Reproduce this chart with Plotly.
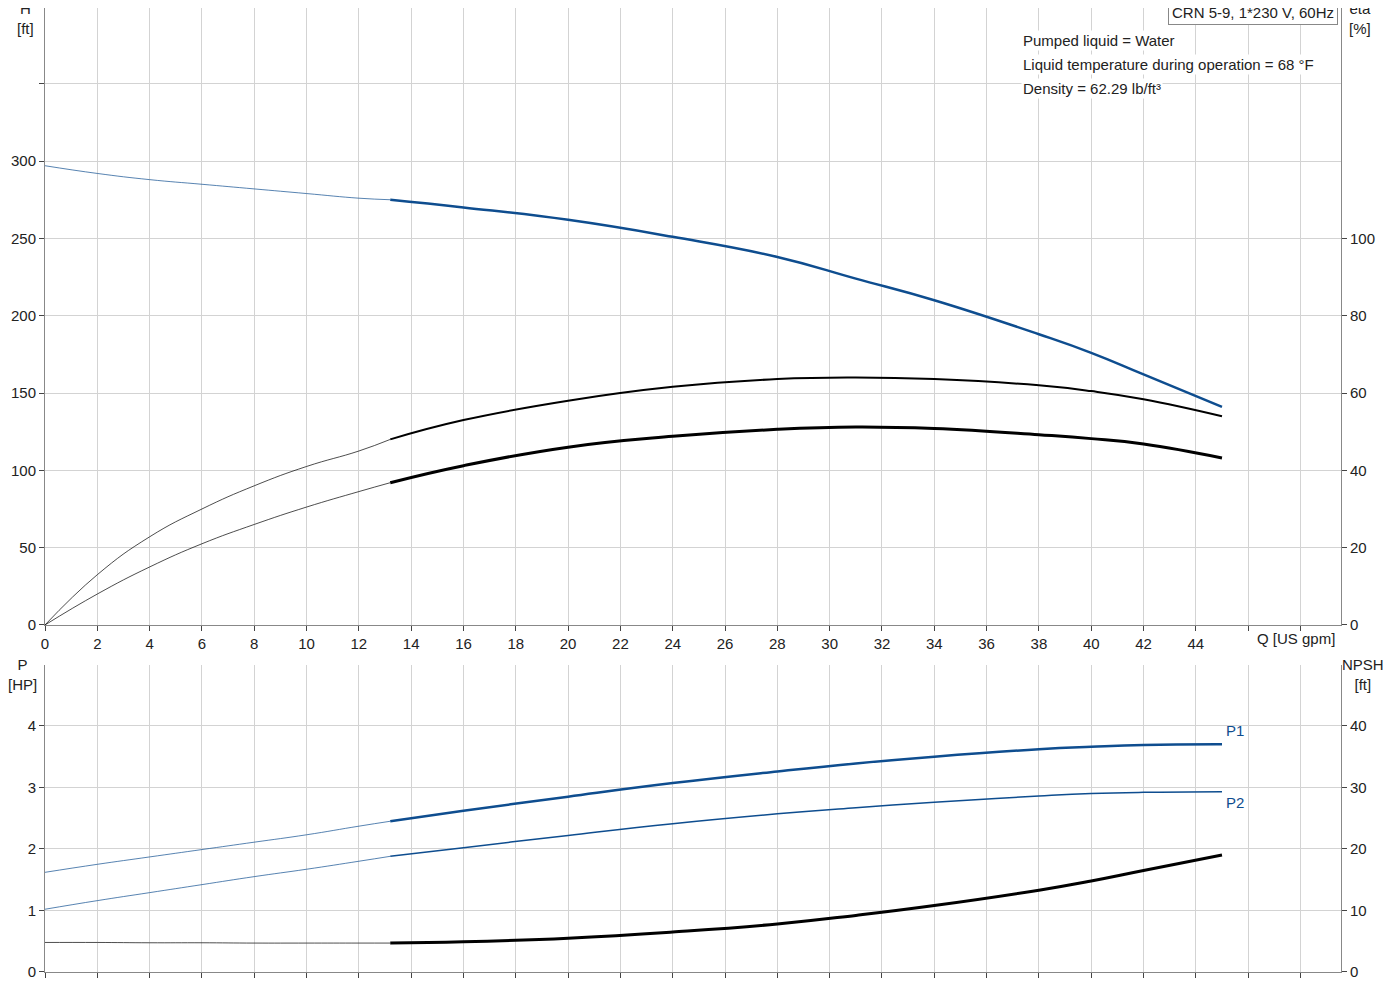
import plotly.graph_objects as go

Q_thin = [0, 2, 4, 6, 8, 10, 12, 13.2]
Q_thick = [13.2, 16, 20, 24, 28, 31, 34, 38, 40, 42, 45]
H_thin = [297, 292, 288, 285, 282, 279, 276, 275]
H_thick = [275, 270, 262, 251, 238, 224, 210, 188, 176, 162, 141]
eta1_thin = [0, 13, 22.8, 30, 36, 41, 45, 48]
eta1_thick = [48, 53, 58, 61.6, 63.6, 64, 63.6, 62, 60.5, 58.4, 54]
eta2_thin = [0, 8, 15, 21, 26, 30.5, 34.5, 36.8]
eta2_thick = [36.8, 41.2, 46, 48.8, 50.6, 51.2, 50.8, 49.2, 48.2, 46.8, 43.2]
P1_thin = [1.62, 1.75, 1.87, 1.99, 2.11, 2.23, 2.37, 2.45]
P1_thick = [2.45, 2.62, 2.85, 3.07, 3.26, 3.39, 3.5, 3.62, 3.66, 3.69, 3.7]
P2_thin = [1.02, 1.16, 1.29, 1.42, 1.55, 1.67, 1.8, 1.88]
P2_thick = [1.88, 2.02, 2.22, 2.41, 2.57, 2.67, 2.76, 2.86, 2.9, 2.92, 2.93]
N_thin = [4.8, 4.8, 4.75, 4.75, 4.7, 4.7, 4.7, 4.7]
N_thick = [4.7, 4.9, 5.5, 6.5, 7.8, 9.2, 10.8, 13.3, 14.8, 16.5, 19]

blue = "#0e4d8f"
fig = go.Figure()
def add(x, y, xa, ya, color, w):
    fig.add_trace(go.Scatter(x=x, y=y, xaxis=xa, yaxis=ya, mode="lines",
                             line=dict(color=color, width=w, shape="spline", smoothing=1.3),
                             showlegend=False, hoverinfo="skip"))
add(Q_thin, H_thin, "x", "y", blue, 0.7); add(Q_thick, H_thick, "x", "y", blue, 2.5)
add(Q_thin, eta1_thin, "x", "y2", "black", 0.7); add(Q_thick, eta1_thick, "x", "y2", "black", 2)
add(Q_thin, eta2_thin, "x", "y2", "black", 0.7); add(Q_thick, eta2_thick, "x", "y2", "black", 3)
add(Q_thin, P1_thin, "x2", "y3", blue, 0.7); add(Q_thick, P1_thick, "x2", "y3", blue, 2.5)
add(Q_thin, P2_thin, "x2", "y3", blue, 0.7); add(Q_thick, P2_thick, "x2", "y3", blue, 1.5)
add(Q_thin, N_thin, "x2", "y4", "black", 0.7); add(Q_thick, N_thick, "x2", "y4", "black", 3)

grid = "#d3d3d3"
ax = dict(showgrid=True, gridcolor=grid, zeroline=False, showline=True, linecolor="#888",
          ticks="outside", ticklen=5, tickcolor="#444", mirror=False)
fig.update_layout(
    width=1392, height=992, plot_bgcolor="white", paper_bgcolor="white",
    margin=dict(l=37, r=59, t=0, b=28),
    font=dict(family="Arial, Liberation Sans", size=15, color="#222"),
    xaxis=dict(ax, domain=[0, 1], range=[0, 49.55], anchor="y",
               tickvals=list(range(0, 49, 2)), ticktext=[str(v) for v in range(0, 45, 2)]+["", ""]),
    yaxis=dict(ax, domain=[0.36, 1], range=[0, 399], tickvals=[0, 50, 100, 150, 200, 250, 300, 350],
               ticktext=["0", "50", "100", "150", "200", "250", "300", ""]),
    yaxis2=dict(ax, overlaying="y", side="right", range=[0, 159.6], showgrid=False,
                tickvals=[0, 20, 40, 60, 80, 100]),
    xaxis2=dict(ax, domain=[0, 1], range=[0, 49.55], anchor="y3", showticklabels=False,
                tickvals=list(range(0, 49, 2))),
    yaxis3=dict(ax, domain=[0, 0.3185], range=[0, 4.99], dtick=1),
    yaxis4=dict(ax, overlaying="y3", side="right", range=[0, 49.9], showgrid=False,
                tickvals=[0, 10, 20, 30, 40]),
)
def ann(x, y, t, xa="paper", ya="paper", **k):
    fig.add_annotation(x=x, y=y, xref=xa, yref=ya, text=t, showarrow=False, **k)
ann(-0.015, 1.01, "H<br>[ft]", xanchor="center", yanchor="top")
ann(1.015, 1.01, "eta<br>[%]", xanchor="center", yanchor="top")
ann(-0.017, 0.33, "P<br>[HP]", xanchor="center", yanchor="top")
ann(1.017, 0.33, "NPSH<br>[ft]", xanchor="center", yanchor="top")
ann(49.4, 0, "Q [US gpm]", xa="x", ya="y", xanchor="right", yanchor="top", yshift=-3)
ann(45.5, 3.7, "P1", xa="x2", ya="y3", xanchor="center", yanchor="bottom", font=dict(color=blue), yshift=3)
ann(45.5, 2.93, "P2", xa="x2", ya="y3", xanchor="center", yanchor="top", font=dict(color=blue))
ann(0.998, 1.0, "CRN 5-9, 1*230 V, 60Hz", xanchor="right", yanchor="top", bgcolor="white",
    bordercolor="#888", borderwidth=1, borderpad=3, yshift=8)
for i, t in enumerate(["Pumped liquid = Water", "Liquid temperature during operation = 68 °F",
                       "Density = 62.29 lb/ft³"]):
    ann(0.753, 0.975, t, xanchor="left", yanchor="middle", yshift=-24*i - 8, bgcolor="white")
fig.write_html("out.html")
